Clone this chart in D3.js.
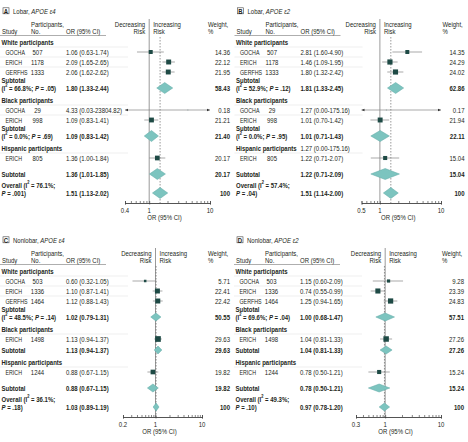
<!DOCTYPE html>
<html><head><meta charset="utf-8">
<script src="https://cdn.jsdelivr.net/npm/d3@7"></script>
<style>
body{margin:0;background:#fff;}
svg{display:block;}
text{font-family:'Liberation Sans',Arial,sans-serif;font-size:7.8px;fill:#231f20;}
</style></head><body>
<svg id="chart" width="468" height="442"></svg>
<script>
const panelLetters = ["A","B","C","D"];
const panelRegions = ["Lobar","Lobar","Nonlobar","Nonlobar"];
const panelAlleles = ["APOE ε4","APOE ε2","APOE ε4","APOE ε2"];
const axisTicks = [[0.4,1,10],[0.5,1,10],[0.2,1,10],[0.3,1,10]];
const groupNames = ["White participants","Black participants","Hispanic participants"];

// study rows: [group, study, participants, OR, lower, upper, weight %]
const studiesA = [
  [0,"GOCHA",507,1.06,0.63,1.74,14.36],
  [0,"ERICH",1178,2.09,1.65,2.65,22.12],
  [0,"GERFHS",1333,2.06,1.62,2.62,21.95],
  [1,"GOCHA",29,4.33,0.03,23804.82,0.18],
  [1,"ERICH",998,1.09,0.83,1.41,21.21],
  [2,"ERICH",805,1.36,1.00,1.84,20.17]
];
const studiesB = [
  [0,"GOCHA",507,2.81,1.60,4.90,14.35],
  [0,"ERICH",1178,1.46,1.09,1.95,24.29],
  [0,"GERFHS",1333,1.80,1.32,2.42,24.02],
  [1,"GOCHA",29,1.27,0.00,175.16,0.17],
  [1,"ERICH",998,1.01,0.70,1.42,21.94],
  [2,"ERICH",805,1.22,0.71,2.07,15.04]
];
const studiesC = [
  [0,"GOCHA",503,0.60,0.32,1.05,5.71],
  [0,"ERICH",1336,1.10,0.87,1.41,22.41],
  [0,"GERFHS",1464,1.12,0.88,1.43,22.42],
  [1,"ERICH",1498,1.13,0.94,1.37,29.63],
  [2,"ERICH",1244,0.88,0.67,1.15,19.82]
];
const studiesD = [
  [0,"GOCHA",503,1.15,0.60,2.09,9.28],
  [0,"ERICH",1336,0.74,0.55,0.99,23.39],
  [0,"GERFHS",1464,1.25,0.94,1.65,24.83],
  [1,"ERICH",1498,1.04,0.81,1.33,27.26],
  [2,"ERICH",1244,0.78,0.50,1.21,15.24]
];
// subtotals: [group, OR, lower, upper, weight %, I2 %, P]
const subtotalsA = [[0,1.80,1.33,2.44,58.43,"66.8",".05"],[1,1.09,0.83,1.42,21.40,"0.0",".69"],[2,1.36,1.01,1.85,20.17,null,null]];
const subtotalsB = [[0,1.81,1.33,2.45,62.86,"52.9",".12"],[1,1.01,0.71,1.43,22.11,"0.0",".95"],[2,1.22,0.71,2.09,15.04,null,null]];
const subtotalsC = [[0,1.02,0.79,1.31,50.55,"48.5",".14"],[1,1.13,0.94,1.37,29.63,null,null],[2,0.88,0.67,1.15,19.82,null,null]];
const subtotalsD = [[0,1.00,0.68,1.47,57.51,"69.6",".04"],[1,1.04,0.81,1.33,27.26,null,null],[2,0.78,0.50,1.21,15.24,null,null]];
// overall: [OR, lower, upper, I2 %, P]
const overallA = [1.51,1.13,2.02,"76.1",".001"];
const overallB = [1.51,1.14,2.00,"57.4",".04"];
const overallC = [1.03,0.89,1.19,"36.1",".18"];
const overallD = [0.97,0.78,1.20,"49.3",".10"];
// stray OR text printed on a group header line in the original (panel B, Hispanic)
const groupHeaderNotes = [[null,null,null],[null,null,"1.27 (0.00-175.16)"],[null,null,null],[null,null,null]];

const allStudies = [studiesA,studiesB,studiesC,studiesD];
const allSubtotals = [subtotalsA,subtotalsB,subtotalsC,subtotalsD];
const allOverall = [overallA,overallB,overallC,overallD];

// layout
const origins = [[0,0],[234.5,0],[0,229],[234,229]];
const axisRanges = [[125,210],[127,206.5],[123,202],[122,207]];
const diamondH = [11,11,8,8];
const SQ = "#1e4a45", CI = "#858585", DF = "#7cc4bf", DS = "#5fa9a4";
const SX = 0.77; // horizontal condensing of text

const svg = d3.select("#chart");
const f2 = d3.format(".2f");
const orText = (o,l,h) => `${f2(o)} (${f2(l)}-${f2(h)})`;
const wText = w => w === 100 ? "100" : f2(w);

function T(parent, x, y, anchor, bold, sx) {
  const t = parent.append("text")
    .attr("transform", `translate(${x},${y}) scale(${sx || SX},1)`)
    .attr("dominant-baseline","central")
    .attr("text-anchor", anchor || "start");
  if (bold) t.attr("font-weight","bold");
  return t;
}

function i2Text(sel, prefix, i2, p, noP) {
  sel.append("tspan").text(prefix + "(I");
  sel.append("tspan").attr("baseline-shift","super").attr("font-size","5.2px").text("2");
  sel.append("tspan").text(` = ${i2}%;` + (noP ? "" : " "));
  if (noP) return;
  sel.append("tspan").attr("font-style","italic").text("P");
  sel.append("tspan").text(` = ${p})`);
}

panelLetters.forEach((L, pi) => {
  const g = svg.append("g").attr("transform", `translate(${origins[pi][0]},${origins[pi][1]})`);
  const ticks = axisTicks[pi];
  const x = d3.scaleLog().domain([ticks[0], ticks[ticks.length-1]]).range(axisRanges[pi]);
  const [dmin, dmax] = x.domain();

  // title
  g.append("rect").attr("x",3).attr("y",7.8).attr("width",6).attr("height",6)
    .attr("fill","none").attr("stroke","#444").attr("stroke-width",0.6);
  T(g, 6, 10.9, "middle", true).attr("font-size","5.2px").text(L);
  const tt = T(g, 13, 11);
  tt.append("tspan").text(panelRegions[pi] + ", ");
  tt.append("tspan").attr("font-style","italic").text(panelAlleles[pi]);

  // build rows
  const rows = [];
  const studies = allStudies[pi], subs = allSubtotals[pi];
  let y = 42;
  groupNames.forEach((gn, gi) => {
    if (gi > 0) y += 12;
    rows.push({type:"group", y, name: gn, note: groupHeaderNotes[pi][gi]});
    studies.filter(s => s[0] === gi).forEach(s => {
      y += 10;
      rows.push({type:"study", y, s});
    });
    const sub = subs.find(s => s[0] === gi);
    if (sub[5] !== null) { y += 16; rows.push({type:"sub2", y, s: sub}); }
    else { y += (gi === groupNames.length - 1 ? 16 : 11); rows.push({type:"sub1", y, s: sub}); }
  });
  y += 19;
  rows.push({type:"overall", y, s: allOverall[pi]});
  const axisY = y + 10;

  const nullX = x(1);
  const ov = allOverall[pi];

  // header
  const hdr1 = 24, hdr2 = 31;
  T(g, 2, hdr2).text("Study");
  T(g, 31, hdr1).text("Participants,");
  T(g, 31, hdr2).text("No.");
  T(g, 66, hdr2).text("OR (95% CI)");
  T(g, nullX-4, hdr1, "end").text("Decreasing");
  T(g, nullX-4, hdr2, "end").text("Risk");
  T(g, nullX+4, hdr1).text("Increasing");
  T(g, nullX+4, hdr2).text("Risk");
  T(g, 208, hdr1).text("Weight,");
  T(g, 208, hdr2).text("%");
  g.append("line").attr("x1",0).attr("x2",106).attr("y1",35.5).attr("y2",35.5).attr("stroke","#777").attr("stroke-width",0.6);

  // row separators
  rows.forEach((r, i) => {
    const nx = rows[i+1];
    if ((r.type === "group" || r.type === "study") && nx && nx.type === "study") {
      const ly = (r.y + nx.y) / 2;
      g.append("line").attr("x1",0).attr("x2",128).attr("y1",ly).attr("y2",ly).attr("stroke","#dcdcdc").attr("stroke-width",0.5);
    }
  });

  // reference lines
  g.append("line").attr("x1",nullX).attr("x2",nullX).attr("y1",19).attr("y2",axisY).attr("stroke","#555").attr("stroke-width",0.6);
  g.append("line").attr("x1",x(ov[0])).attr("x2",x(ov[0])).attr("y1",37).attr("y2",axisY)
    .attr("stroke","#555").attr("stroke-width",0.6).attr("stroke-dasharray","1.5,1.5");

  const diamond = (o,l,h,cy,hh) => {
    const pts = [[x(l),cy],[x(o),cy-hh/2],[x(h),cy],[x(o),cy+hh/2]];
    g.append("path").attr("d", d3.line()(pts) + "Z").attr("fill",DF).attr("stroke",DS).attr("stroke-width",0.5);
  };

  rows.forEach(r => {
    if (r.type === "group") {
      T(g, 1.5, r.y, "start", true).text(r.name);
      if (r.note) T(g, 66, r.y).text(r.note);
    } else if (r.type === "study") {
      const [gi,name,n,o,l,h,w] = r.s;
      T(g, 5.5, r.y, "start", false, 0.68).text(name);
      T(g, 37.5, r.y, "middle").text(n);
      T(g, 66, r.y).text(orText(o,l,h));
      T(g, 230, r.y, "end").text(wText(w));
      const x1 = x(Math.max(l, dmin)), x2 = x(Math.min(h, dmax));
      g.append("line").attr("x1",x1).attr("x2",x2).attr("y1",r.y).attr("y2",r.y).attr("stroke",CI).attr("stroke-width",0.7);
      if (l < dmin) g.append("path").attr("d",`M${x1},${r.y}l3,-1.3v2.6z`).attr("fill","#333");
      if (h > dmax) g.append("path").attr("d",`M${x2},${r.y}l-3,-1.3v2.6z`).attr("fill","#333");
      const side = Math.max(Math.sqrt(w) * 1.05, 0.6);
      if (o >= dmin && o <= dmax)
        g.append("rect").attr("x",x(o)-side/2).attr("y",r.y-side/2).attr("width",side).attr("height",side).attr("fill",SQ);
    } else if (r.type === "sub2" || r.type === "sub1") {
      const [gi,o,l,h,w,i2,p] = r.s;
      if (r.type === "sub2") {
        T(g, 1.5, r.y-8, "start", true).text("Subtotal");
        i2Text(T(g, 1.5, r.y, "start", true), "", i2, p);
      } else {
        T(g, 1.5, r.y, "start", true).text("Subtotal");
      }
      T(g, 66, r.y, "start", true).text(orText(o,l,h));
      T(g, 230, r.y, "end", true).text(wText(w));
      diamond(o,l,h,r.y,diamondH[pi]);
    } else if (r.type === "overall") {
      const [o,l,h,i2,p] = r.s;
      i2Text(T(g, 1.5, r.y-8, "start", true), "Overall ", i2, p, true);
      const t2 = T(g, 1.5, r.y, "start", true);
      t2.append("tspan").attr("font-style","italic").text("P");
      t2.append("tspan").text(` = ${p})`);
      T(g, 66, r.y, "start", true).text(orText(o,l,h));
      T(g, 230, r.y, "end", true).text("100");
      diamond(o,l,h,r.y,diamondH[pi]);
    }
  });

  // axis
  const minor = [];
  for (let k = 1; k <= 9; k++) { const v = +(k/10).toFixed(1); if (v >= dmin) minor.push(v); }
  for (let k = 1; k <= 10; k++) minor.push(k);
  const aMinor = g.append("g").attr("transform",`translate(0,${axisY})`)
    .call(d3.axisTop(x).tickValues(minor).tickSize(2).tickFormat(""));
  const aMajor = g.append("g").attr("transform",`translate(0,${axisY})`)
    .call(d3.axisBottom(x).tickValues(ticks).tickSize(1.5).tickFormat(""));
  [aMinor, aMajor].forEach(a => {
    a.attr("font-family",null).attr("font-size",null);
    a.selectAll("path,line").attr("stroke","#333").attr("stroke-width",0.6);
  });
  const fmt = d => d >= 1 ? d3.format("d")(d) : d3.format(".1f")(d);
  ticks.forEach(t => T(g, x(t), axisY + 7, "middle").text(fmt(t)));
  T(g, (axisRanges[pi][0]+axisRanges[pi][1])/2 - 3, axisY + 14, "middle").text("OR (95% CI)");
});
</script>
</body></html>
